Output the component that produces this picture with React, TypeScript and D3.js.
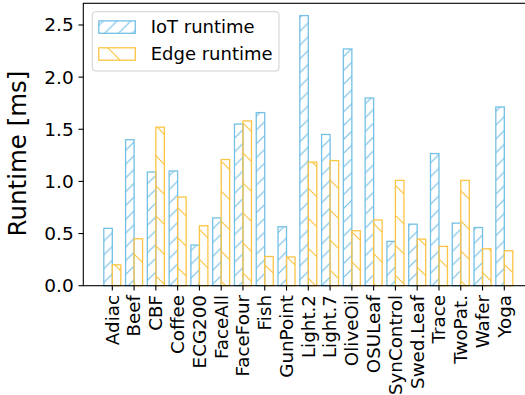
import React from "react";
import * as d3 from "d3";

const categories = ["Adiac", "Beef", "CBF", "Coffee", "ECG200", "FaceAll", "FaceFour", "Fish", "GunPoint", "Light.2", "Light.7", "OliveOil", "OSULeaf", "SynControl", "Swed.Leaf", "Trace", "TwoPat.", "Wafer", "Yoga"];
const iotRuntime = [0.55, 1.40, 1.09, 1.10, 0.39, 0.65, 1.55, 1.66, 0.565, 2.59, 1.45, 2.27, 1.80, 0.425, 0.59, 1.267, 0.60, 0.558, 1.714];
const edgeRuntime = [0.20, 0.45, 1.52, 0.85, 0.575, 1.21, 1.58, 0.28, 0.275, 1.185, 1.20, 0.527, 0.63, 1.01, 0.447, 0.377, 1.01, 0.354, 0.335];
const yTicks = [0, 0.5, 1.0, 1.5, 2.0, 2.5];
const seriesNames = ["IoT runtime", "Edge runtime"];

const W = 525, H = 395;
const left = 83.3, right = 533.3, top = 3.3, bottom = 285.7;
const blue = "#74c0e6";
const orange = "#fcc444";
const font = "DejaVu Sans, sans-serif";

export default function App() {
  const x = d3.scalePoint<string>().domain(categories).range([112.3, 504.3]);
  const y = d3.scaleLinear().domain([0, 2.708]).range([bottom, top]);
  const bw = 0.39 * x.step();
  const dB = 13.8, dO = 30;
  return (
    <svg width={W} height={H} style={{ position: "absolute", left: 0, top: 0, background: "#fff" }} fontFamily={font}>
      <defs>
        <pattern id="hb" patternUnits="userSpaceOnUse" width={dB} height={dB}>
          <path d={`M0,${dB} L${dB},0 M${-dB / 2},${dB / 2} L${dB / 2},${-dB / 2} M${dB / 2},${dB * 1.5} L${dB * 1.5},${dB / 2}`} stroke={blue} strokeWidth={1.2} />
        </pattern>
        <pattern id="ho" patternUnits="userSpaceOnUse" width={dO} height={dO}>
          <path d={`M0,0 L${dO},${dO} M${-dO / 2},${dO / 2} L${dO / 2},${dO * 1.5} M${dO / 2},${-dO / 2} L${dO * 1.5},${dO / 2}`} stroke={orange} strokeWidth={1.2} />
        </pattern>
      </defs>
      <rect x={0} y={0} width={W} height={H} fill="#fff" />
      {categories.map((c, i) => {
        const cx = x(c)!;
        return (
          <g key={c}>
            <rect x={cx - bw} y={y(iotRuntime[i])} width={bw} height={bottom - y(iotRuntime[i])} fill="url(#hb)" stroke={blue} strokeWidth={1.3} />
            <rect x={cx} y={y(edgeRuntime[i])} width={bw} height={bottom - y(edgeRuntime[i])} fill="url(#ho)" stroke={orange} strokeWidth={1.3} />
          </g>
        );
      })}
      <rect x={left} y={top} width={right - left} height={bottom - top} fill="none" stroke="#000" strokeWidth={1.1} />
      {yTicks.map((t) => (
        <g key={t}>
          <line x1={left - 4.8} x2={left} y1={y(t)} y2={y(t)} stroke="#000" strokeWidth={1.1} />
          <text x={left - 9.6} y={y(t)} dy="0.35em" textAnchor="end" fontSize={18.5} fill="#000">{t.toFixed(1)}</text>
        </g>
      ))}
      {categories.map((c) => (
        <g key={c}>
          <line x1={x(c)!} x2={x(c)!} y1={bottom} y2={bottom + 4.8} stroke="#000" strokeWidth={1.1} />
          <text transform={`translate(${x(c)!},${bottom + 9.3}) rotate(-90)`} dy="0.35em" textAnchor="end" fontSize={18.3} fill="#000">{c}</text>
        </g>
      ))}
      <text transform={`translate(26,153.5) rotate(-90)`} textAnchor="middle" fontSize={24.5} fill="#000">Runtime [ms]</text>
      <g>
        <rect x={92.3} y={11.7} width={186.7} height={59.3} rx={3} fill="#fff" fillOpacity={0.8} stroke="#d0d0d0" strokeWidth={1} />
        <rect x={98.8} y={20.9} width={36.5} height={12.4} fill="url(#hb)" stroke={blue} strokeWidth={1.3} />
        <rect x={98.8} y={47.8} width={36.5} height={12.4} fill="url(#ho)" stroke={orange} strokeWidth={1.3} />
        <text x={150.7} y={27.1} dy="0.35em" fontSize={18} fill="#000">{seriesNames[0]}</text>
        <text x={150.7} y={54} dy="0.35em" fontSize={18} fill="#000">{seriesNames[1]}</text>
      </g>
    </svg>
  );
}
